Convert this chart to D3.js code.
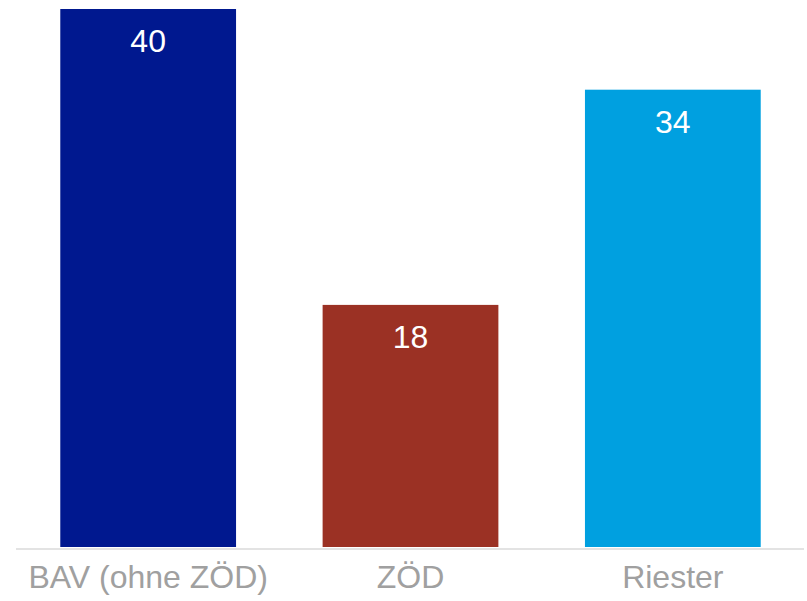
<!DOCTYPE html>
<meta charset="utf-8">
<head>
<style>
body { margin: 0; background: #fff; }
.value { font: 32px "Liberation Sans", Arial, sans-serif; fill: #fff; }
.cat { font: 32px "Liberation Sans", Arial, sans-serif; fill: #a0a0a0; }
</style>
</head>
<body>
<svg width="807" height="601"></svg>
<script src="https://d3js.org/d3.v7.min.js"></script>
<script>

var categories = ["BAV (ohne ZÖD)", "ZÖD", "Riester"];
var values = [40, 18, 34];
var colors = ["#00188f", "#9b3124", "#00a0e0"];

var svg = d3.select("svg");

var x = d3.scaleBand()
    .domain(categories)
    .range([17, 804])
    .paddingInner(0.33)
    .paddingOuter(0.165);

var y = d3.scaleLinear()
    .domain([0, 40])
    .range([547, 9]);

svg.selectAll(".bar")
  .data(values)
  .enter().append("rect")
    .attr("class", "bar")
    .attr("x", function(d, i) { return x(categories[i]); })
    .attr("y", function(d) { return y(d); })
    .attr("width", x.bandwidth())
    .attr("height", function(d) { return y(0) - y(d); })
    .attr("fill", function(d, i) { return colors[i]; });

svg.append("line")
    .attr("x1", 16).attr("x2", 804)
    .attr("y1", 549).attr("y2", 549)
    .attr("stroke", "#e3e3e3")
    .attr("stroke-width", 2);

svg.selectAll(".value")
  .data(values)
  .enter().append("text")
    .attr("class", "value")
    .attr("text-anchor", "middle")
    .attr("x", function(d, i) { return x(categories[i]) + x.bandwidth() / 2; })
    .attr("y", function(d) { return y(d) + 43; })
    .text(function(d) { return d; });

svg.selectAll(".cat")
  .data(categories)
  .enter().append("text")
    .attr("class", "cat")
    .attr("text-anchor", "middle")
    .attr("x", function(d) { return x(d) + x.bandwidth() / 2; })
    .attr("y", 588)
    .text(function(d) { return d; });

</script>
</body>
</html>
